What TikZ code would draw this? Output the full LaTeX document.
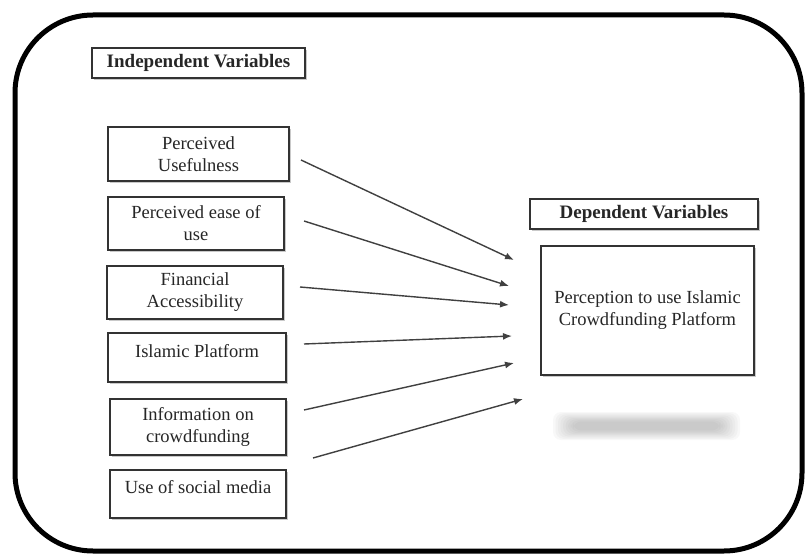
\documentclass[tikz,border=0pt]{standalone}
\usepackage{fontspec}
\setmainfont{Liberation Serif}
\usetikzlibrary{arrows.meta,shadows}
\begin{document}
\begin{tikzpicture}[x=1pt,y=-1pt,
  boxstyle/.style={draw=black!80, line width=1.3pt, fill=white, rectangle, inner sep=2pt,
     align=center, font=\fontsize{18.5}{22}\selectfont, text=black!85,
     drop shadow={shadow xshift=1.5pt, shadow yshift=-2pt, fill=black!35, opacity=0.6}},
  titlestyle/.style={boxstyle, font=\fontsize{19}{22}\selectfont\bfseries},
  txt/.style={font=\fontsize{18.5}{22}\selectfont, text=black!85, align=center, inner sep=0pt},
  arr/.style={draw=black!75, line width=1.4pt, -{Latex[length=9pt,width=7pt]}}]
\useasboundingbox (0,0) rectangle (806,556);
\fill[white] (0,0) rectangle (806,556);
% outer frame
\draw[line width=5pt, rounded corners=78pt] (15,15) rectangle (802,551);
% titles
\node[titlestyle, minimum width=213pt, minimum height=30pt] (t1) at (198.5,63) {Independent Variables};
\node[titlestyle, minimum width=228pt, minimum height=30pt] (t2) at (644,214) {Dependent Variables};
% independent boxes
\node[boxstyle, minimum width=181pt, minimum height=54pt] (b1) at (198.5,154) {Perceived\\Usefulness};
\node[boxstyle, minimum width=176pt, minimum height=53pt] (b2) at (196,223.5) {Perceived ease of\\use};
\node[boxstyle, minimum width=176pt, minimum height=53pt] (b3) at (195,292.5) {Financial\\Accessibility};
\node[boxstyle, minimum width=178pt, minimum height=49pt] (b4) at (197,357.5) {};
\node[txt] (b4t) at (197,351) {Islamic Platform};
\node[boxstyle, minimum width=176pt, minimum height=56pt] (b5) at (198,427) {Information on\\crowdfunding};
\node[boxstyle, minimum width=176pt, minimum height=48pt] (b6) at (198,494) {};
\node[txt] (b6t) at (198,487) {Use of social media};
% dependent box
\node[boxstyle, minimum width=213pt, minimum height=129pt] (dep) at (647.5,310.5) {Perception to use Islamic\\Crowdfunding Platform};
% blurred bar
\foreach \i in {0,...,8}
  \fill[black!60, opacity=0.045, rounded corners=8pt] (553+\i*2.5,412+\i*1.2) rectangle (740-\i*2.5,440-\i*1.2);
% arrows
\coordinate (s1) at (301,160); \coordinate (e1) at (514,260);
\coordinate (s2) at (304,221); \coordinate (e2) at (509,286);
\coordinate (s3) at (300,287); \coordinate (e3) at (509,305);
\coordinate (s4) at (304,344); \coordinate (e4) at (512,336);
\coordinate (s5) at (304,410); \coordinate (e5) at (514,363);
\coordinate (s6) at (313,458); \coordinate (e6) at (523,399);
\foreach \k in {1,...,6} \draw[arr] (s\k) -- (e\k);
\end{tikzpicture}
\end{document}
